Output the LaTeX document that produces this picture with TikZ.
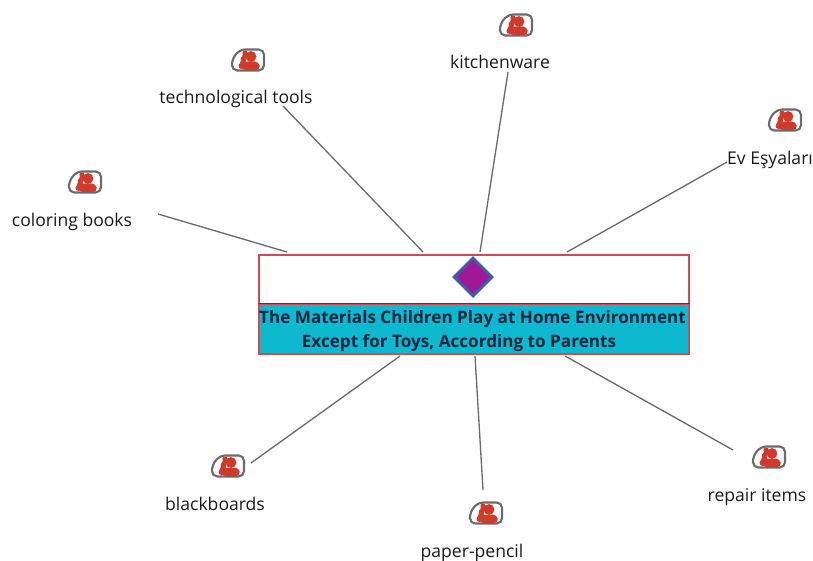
\documentclass[tikz,border=0pt]{standalone}
\usepackage{fontspec}
\setmainfont{Open Sans}
\usetikzlibrary{shapes.geometric}
\definecolor{boxred}{HTML}{D8494F}
\definecolor{cyanfill}{HTML}{0DB9CE}
\definecolor{linegray}{HTML}{6A6A6A}
\definecolor{iconred}{HTML}{CF3A2A}
\definecolor{icongray}{HTML}{6B6B6B}
\definecolor{dmdfill}{HTML}{A0189A}
\definecolor{dmdline}{HTML}{3F5FA5}
\definecolor{inkblue}{HTML}{0A2440}
\tikzset{
  x=0.02cm,y=-0.02cm,
  lbl/.style={font=\fontsize{10pt}{12pt}\selectfont,text=black!90,inner sep=0pt,anchor=center},
  conn/.style={draw=linegray,line width=0.75pt},
  pics/personicon/.style={code={
    \draw[icongray,line width=1.2pt,fill=white,rounded corners=3pt]
      (-8,-10.5) -- (16,-10.5) -- (16,10.5) -- (-16,10.5) -- (-16,-1) -- cycle;
    \fill[iconred] (-3,-7) circle (2.6);
    \fill[iconred] (-5,-1) circle (2.4);
    \fill[iconred] (-6.5,6) circle (3);
    \fill[iconred] (-5,-6) -- (-1,-6) -- (-3,6) -- (-9,6) -- cycle;
    \fill[iconred] (3,-3.5) circle (5.4);
    \fill[iconred,rounded corners=2.5pt] (-7,10) -- (-5,1.5) -- (11,1.5) -- (12.5,10) -- cycle;
  }}
}
\begin{document}
\begin{tikzpicture}
\useasboundingbox (0,0) rectangle (813,560);
\node[draw=boxred,fill=white,line width=1pt,inner sep=0pt,anchor=north west,minimum width=8.6cm,minimum height=0.98cm] (top) at (258,254) {};
\node[draw=boxred,fill=cyanfill,line width=1pt,inner sep=0pt,anchor=north west,minimum width=8.6cm,minimum height=1cm] (bottom) at (258,303.5) {};
\draw[dmdline!70!black,line width=0.8pt] (bottom.north west) -- (bottom.north east);
\node[diamond,draw=dmdline,fill=dmdfill,line width=1.7pt,inner sep=0pt,minimum width=0.78cm,minimum height=0.78cm] (dmd) at (473,277) {};
\node[font=\fontsize{9.75pt}{11pt}\selectfont\bfseries,text=inkblue,inner sep=0pt] (t1) at (472.5,319) {The Materials Children Play at Home Environment};
\node[font=\fontsize{9.75pt}{11pt}\selectfont\bfseries,text=inkblue,inner sep=0pt] (t2) at (459,343) {Except for Toys, According to Parents};

\node[lbl] (kitchen) at (500,62) {kitchenware};
\node[lbl] (tech) at (236,98.5) {technological tools};
\node[lbl] (color) at (72,222) {coloring books};
\node[lbl] (ev) at (770,160) {Ev Eşyaları};
\node[lbl] (black) at (215,504) {blackboards};
\node[lbl] (paper) at (472,553) {paper-pencil};
\node[lbl] (repair) at (757,497) {repair items};

\pic (ikitchen) at (516,25) {personicon};
\pic (itech) at (248,60) {personicon};
\pic (icolor) at (85,182) {personicon};
\pic (iev) at (785,120) {personicon};
\pic (iblack) at (228,466) {personicon};
\pic (ipaper) at (486,513) {personicon};
\pic (irepair) at (769,457) {personicon};

\coordinate (a1) at (158,214); \coordinate (b1) at (287,252);
\coordinate (a2) at (283,106); \coordinate (b2) at (423,252);
\coordinate (a3) at (508,72);  \coordinate (b3) at (480,252);
\coordinate (a4) at (727,162); \coordinate (b4) at (567,252);
\coordinate (a5) at (251,463); \coordinate (b5) at (400,356);
\coordinate (a6) at (483,490); \coordinate (b6) at (475,356);
\coordinate (a7) at (733,450); \coordinate (b7) at (565,356);
\draw[conn] (a1) -- (b1);
\draw[conn] (a2) -- (b2);
\draw[conn] (a3) -- (b3);
\draw[conn] (a4) -- (b4);
\draw[conn] (a5) -- (b5);
\draw[conn] (a6) -- (b6);
\draw[conn] (a7) -- (b7);
\end{tikzpicture}
\end{document}
